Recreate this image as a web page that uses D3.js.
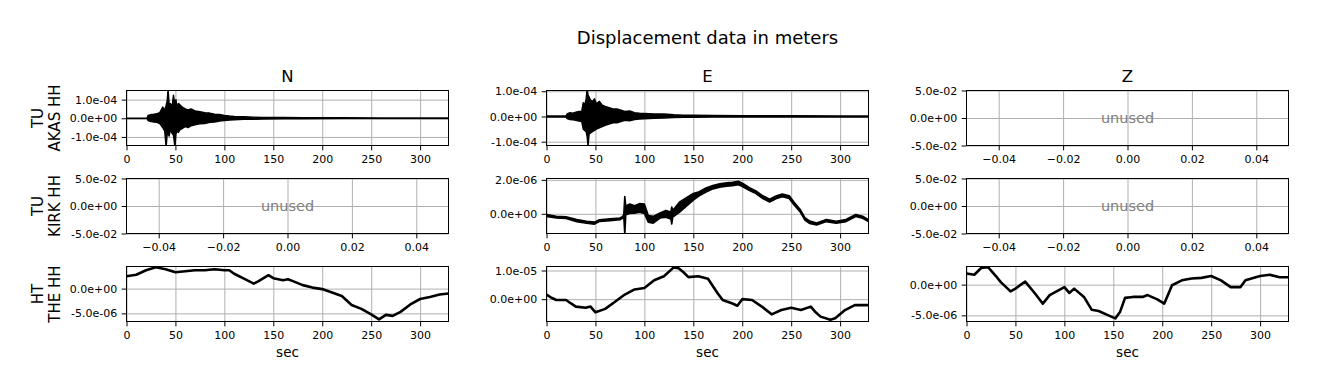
<!DOCTYPE html>
<html>
<head>
<meta charset="utf-8">
<script src="https://cdn.jsdelivr.net/npm/d3@7"></script>
<style>
  body { margin: 0; background: #fff; }
  text { font-family: "DejaVu Sans", sans-serif; fill: #000; }
</style>
</head>
<body>
<div id="graph"></div>
<script>
// components (columns) and stations (rows)
var components = ['N', 'E', 'Z'];
var stationNet = ['TU', 'TU', 'HT'];
var stationName = ['AKAS HH', 'KIRK HH', 'THE HH'];

// TU AKAS N: envelope of the trace (x1e-4 m)
var akasNTime = [0, 21, 22, 25, 28, 31, 34, 37, 39, 40.5, 41.5, 42.5, 43.5, 45, 46.5, 48, 49.5, 50.5, 51.5, 53, 55, 57, 60, 63, 66, 70, 75, 80, 85, 90, 95, 100, 105, 110, 120, 130, 140, 160, 180, 220, 260, 300, 329];
var akasNUpper = [0.01, 0.01, 0.15, 0.2, 0.22, 0.25, 0.3, 0.6, 0.45, 0.7, 0.9, 1.55, 0.8, 0.78, 0.6, 1.24, 0.7, 1.0, 0.6, 0.8, 0.7, 0.6, 0.5, 0.45, 0.5, 0.4, 0.35, 0.3, 0.28, 0.22, 0.2, 0.15, 0.12, 0.1, 0.08, 0.06, 0.05, 0.04, 0.03, 0.03, 0.02, 0.02, 0.02];
var akasNLower = [-0.01, -0.01, -0.12, -0.18, -0.2, -0.22, -0.28, -0.5, -0.67, -1.55, -0.9, -0.8, -0.95, -0.6, -0.8, -0.9, -1.55, -0.85, -0.7, -0.76, -0.6, -0.55, -0.45, -0.5, -0.4, -0.35, -0.3, -0.28, -0.22, -0.2, -0.15, -0.12, -0.1, -0.08, -0.06, -0.05, -0.04, -0.03, -0.03, -0.02, -0.02, -0.02, -0.02];

// TU AKAS E: envelope (x1e-4 m)
var akasETime = [0, 20, 21, 24, 27, 30, 33, 36, 37.5, 39, 40.5, 41.5, 42.5, 43.5, 45, 47, 49, 51, 54, 57, 60, 64, 68, 72, 76, 80, 85, 90, 95, 100, 110, 120, 130, 140, 150, 170, 200, 250, 300, 329];
var akasEUpper = [0.02, 0.02, 0.1, 0.15, 0.13, 0.17, 0.2, 0.2, 0.55, 0.45, 0.7, 1.1, 0.85, 0.77, 0.65, 0.6, 0.7, 0.5, 0.6, 0.45, 0.4, 0.35, 0.3, 0.3, 0.25, 0.2, 0.22, 0.15, 0.13, 0.12, 0.1, 0.1, 0.07, 0.05, 0.05, 0.04, 0.03, 0.03, 0.02, 0.02];
var akasELower = [-0.02, -0.02, -0.08, -0.12, -0.13, -0.15, -0.18, -0.2, -0.5, -0.55, -0.6, -0.8, -1.2, -0.7, -0.65, -0.6, -0.55, -0.5, -0.45, -0.4, -0.35, -0.3, -0.25, -0.25, -0.2, -0.15, -0.17, -0.12, -0.1, -0.09, -0.07, -0.06, -0.04, -0.03, -0.03, -0.02, -0.02, -0.02, -0.02, -0.02];

// TU KIRK E: trace middle and noise half-width (x1e-6 m)
var kirkETime = [0, 10, 20, 31, 41, 49, 54, 65, 75, 78, 79, 80, 81, 85, 90, 95, 100, 104, 109, 116, 122, 127, 128, 129, 136, 143, 150, 156, 163, 170, 177, 184, 190, 196, 201, 207, 214, 221, 228, 235, 241, 248, 253, 259, 264, 269, 276, 286, 296, 306, 316, 323, 329];
var kirkEMid = [-0.1, -0.2, -0.23, -0.4, -0.5, -0.55, -0.4, -0.35, -0.3, -0.2, -0.1, -0.1, 0.2, 0.3, 0.25, 0.35, 0.3, -0.3, -0.35, -0.1, 0.0, -0.1, -0.1, 0.0, 0.4, 0.7, 1.0, 1.18, 1.4, 1.57, 1.67, 1.72, 1.76, 1.82, 1.67, 1.47, 1.27, 0.98, 0.78, 0.98, 1.08, 0.98, 0.6, 0.2, -0.3, -0.5, -0.6, -0.4, -0.5, -0.4, -0.1, -0.2, -0.4];
var kirkENoise = [0.05, 0.05, 0.05, 0.06, 0.06, 0.06, 0.05, 0.05, 0.05, 0.05, 0.1, 1.12, 0.25, 0.28, 0.22, 0.25, 0.28, 0.2, 0.2, 0.15, 0.2, 0.2, 0.5, 0.2, 0.3, 0.25, 0.2, 0.12, 0.12, 0.1, 0.1, 0.1, 0.1, 0.1, 0.1, 0.08, 0.08, 0.08, 0.08, 0.08, 0.08, 0.08, 0.08, 0.07, 0.07, 0.07, 0.06, 0.06, 0.06, 0.06, 0.06, 0.06, 0.06];

// HT THE N/E/Z traces (x1e-6 m)
var theNTime = [0, 10, 20, 30, 40, 50, 60, 70, 80, 90, 100, 105, 110, 120, 130, 135, 145, 150, 160, 165, 170, 180, 190, 200, 210, 220, 230, 240, 250, 258, 265, 272, 280, 290, 300, 310, 320, 329];
var theNVal = [2.5, 2.8, 3.7, 4.3, 3.9, 3.3, 3.5, 3.7, 3.7, 3.9, 3.7, 3.7, 3.0, 2.0, 1.0, 1.5, 2.7, 2.1, 1.7, 1.9, 1.5, 0.7, 0.2, -0.1, -0.8, -1.5, -3.3, -4.1, -5.2, -6.2, -5.3, -5.5, -4.7, -3.2, -2.1, -1.7, -1.2, -1.0];
var theETime = [0, 5, 10, 20, 25, 30, 40, 45, 50, 60, 70, 80, 90, 100, 110, 120, 130, 135, 140, 145, 155, 165, 175, 180, 190, 195, 200, 210, 220, 230, 240, 250, 260, 270, 275, 280, 290, 295, 305, 315, 329];
var theEVal = [1.6, 0.5, -0.3, -0.3, -1.5, -2.6, -3.0, -2.6, -4.6, -3.4, -0.9, 1.6, 3.4, 3.9, 6.6, 8.0, 11.1, 10.8, 9.4, 7.7, 8.0, 7.1, 2.0, -0.3, -1.5, -2.3, 0, -0.3, -2.6, -5.3, -3.8, -3.0, -3.8, -2.6, -4.6, -6.1, -7.2, -6.7, -3.8, -2.1, -2.1];
var theZTime = [0, 8, 15, 22, 30, 35, 45, 50, 60, 70, 78, 85, 100, 105, 110, 120, 128, 135, 145, 152, 157, 162, 170, 180, 185, 195, 202, 210, 220, 230, 240, 250, 260, 270, 280, 285, 300, 310, 320, 329];
var theZVal = [1.8, 1.6, 2.7, 2.85, 1.4, 0.4, -1.1, -0.65, 0.5, -1.45, -3.1, -1.7, -0.4, -1.35, -0.65, -2.0, -4.1, -4.3, -5.0, -5.5, -4.4, -2.15, -2.0, -2.0, -1.7, -2.4, -3.1, -0.1, 0.7, 1.0, 1.1, 1.4, 0.7, -0.4, -0.4, 0.7, 1.4, 1.6, 1.2, 1.2];

// axis limits and ticks per panel, row by row
var timeLimits = [0, 329];
var unusedLimits = [-0.05, 0.05];
var timeTicks = [0, 50, 100, 150, 200, 250, 300];
var unusedTicks = [-0.04, -0.02, 0, 0.02, 0.04];
var yLimits = [
  [[-1.46e-4, 1.49e-4], [-1.15e-4, 1.03e-4], [-0.05, 0.05]],
  [[-0.05, 0.05], [-1.16e-6, 2.08e-6], [-0.05, 0.05]],
  [[-6.64e-6, 4.46e-6], [-7.8e-6, 1.14e-5], [-6.0e-6, 2.95e-6]]
];
var yTicks = [
  [[-1e-4, 0, 1e-4], [-1e-4, 0, 1e-4], [-0.05, 0, 0.05]],
  [[-0.05, 0, 0.05], [0, 2e-6], [-0.05, 0, 0.05]],
  [[-5e-6, 0], [0, 1e-5], [-5e-6, 0]]
];

function zip(t, a, scale) {
  return t.map(function(d, i) { return {t: d, v: a[i] * scale}; });
}
function band(t, lo, hi, scale) {
  return t.map(function(d, i) { return {t: d, lo: lo[i] * scale, hi: hi[i] * scale}; });
}

// what goes in each panel: null = unused
var traces = [
  [{kind: 'band', data: band(akasNTime, akasNLower, akasNUpper, 1e-4), sw: 1.4},
   {kind: 'band', data: band(akasETime, akasELower, akasEUpper, 1e-4), sw: 1.4},
   null],
  [null,
   {kind: 'band', sw: 1.6, data: band(kirkETime,
      kirkEMid.map(function(m, i) { return m - kirkENoise[i]; }),
      kirkEMid.map(function(m, i) { return m + kirkENoise[i]; }), 1e-6)},
   null],
  [{kind: 'line', data: zip(theNTime, theNVal, 1e-6)},
   {kind: 'line', data: zip(theETime, theEVal, 1e-6)},
   {kind: 'line', data: zip(theZTime, theZVal, 1e-6)}]
];

var width = 1318, height = 389;
var colX = [126.5, 546.5, 966.5], panelW = 322;
var rowY = [90.5, 178.5, 266.5], panelH = 55;
var tickLen = 4.86;

// matplotlib style %.1e
function sci(v) {
  var parts = v.toExponential(1).split('e');
  var e = parts[1];
  return parts[0] + 'e' + e[0] + e.slice(1).padStart(2, '0');
}

var svg = d3.select('#graph').append('svg')
  .attr('width', width).attr('height', height);
svg.append('rect').attr('width', width).attr('height', height).attr('fill', '#fff');

svg.append('text')
  .attr('x', (colX[0] + colX[2] + panelW) / 2).attr('y', 44)
  .attr('text-anchor', 'middle').style('font-size', '18px')
  .text('Displacement data in meters');

var defs = svg.append('defs');

for (var r = 0; r < 3; r++) {
  for (var c = 0; c < 3; c++) {
    var tr = traces[r][c];
    var g = svg.append('g').attr('transform', 'translate(' + colX[c] + ',' + rowY[r] + ')');
    var x = d3.scaleLinear().domain(tr ? timeLimits : unusedLimits).range([0, panelW]);
    var y = d3.scaleLinear().domain(yLimits[r][c]).range([panelH, 0]);

    // grid
    g.append('g').call(d3.axisBottom(x).tickValues(tr ? timeTicks : unusedTicks)
        .tickSize(-panelH).tickFormat(''))
      .attr('transform', 'translate(0,' + panelH + ')')
      .call(function(a) { a.select('.domain').remove(); a.selectAll('line').attr('stroke', '#b0b0b0').attr('stroke-width', 1); });
    g.append('g').call(d3.axisLeft(y).tickValues(yTicks[r][c])
        .tickSize(-panelW).tickFormat(''))
      .call(function(a) { a.select('.domain').remove(); a.selectAll('line').attr('stroke', '#b0b0b0').attr('stroke-width', 1); });

    var clipId = 'clip' + r + c;
    defs.append('clipPath').attr('id', clipId)
      .append('rect').attr('width', panelW).attr('height', panelH);
    var plot = g.append('g').attr('clip-path', 'url(#' + clipId + ')');

    if (!tr) {
      g.append('text')
        .attr('x', panelW / 2).attr('y', panelH / 2)
        .attr('dy', '0.36em')
        .attr('text-anchor', 'middle')
        .style('font-size', '14.5px').style('fill', '#808080')
        .text('unused');
    } else if (tr.kind === 'band') {
      plot.append('path').datum(tr.data)
        .attr('d', d3.area().x(function(d) { return x(d.t); })
          .y0(function(d) { return y(d.lo); }).y1(function(d) { return y(d.hi); }))
        .attr('fill', '#000').attr('stroke', '#000').attr('stroke-width', tr.sw)
        .attr('stroke-linejoin', 'round');
    } else {
      plot.append('path').datum(tr.data)
        .attr('d', d3.line().x(function(d) { return x(d.t); }).y(function(d) { return y(d.v); }))
        .attr('fill', 'none').attr('stroke', '#000').attr('stroke-width', 2.6)
        .attr('stroke-linejoin', 'round');
    }

    // spines
    g.append('rect').attr('width', panelW).attr('height', panelH)
      .attr('fill', 'none').attr('stroke', '#000').attr('stroke-width', 1);

    // ticks and labels
    var xa = g.append('g').attr('transform', 'translate(0,' + panelH + ')')
      .call(d3.axisBottom(x).tickValues(tr ? timeTicks : unusedTicks)
        .tickSize(tickLen).tickPadding(4.4)
        .tickFormat(tr ? d3.format('d') : d3.format('.2f')));
    var ya = g.append('g')
      .call(d3.axisLeft(y).tickValues(yTicks[r][c])
        .tickSize(tickLen).tickPadding(4.4).tickFormat(sci));
    [xa, ya].forEach(function(a) {
      a.select('.domain').remove();
      a.selectAll('line').attr('stroke', '#000').attr('stroke-width', 1);
      a.selectAll('text').attr('font-family', null).style('font-size', '11px').attr('fill', '#000');
    });

    if (r === 0) {
      g.append('text').attr('x', panelW / 2).attr('y', -8.5)
        .attr('text-anchor', 'middle').style('font-size', '16.5px')
        .text(components[c]);
    }
    if (r === 2) {
      g.append('text').attr('x', panelW / 2).attr('y', panelH + 35)
        .attr('text-anchor', 'middle').style('font-size', '13.5px')
        .text('sec');
    }
    if (c === 0) {
      [stationNet[r], stationName[r]].forEach(function(s, i) {
        g.append('text')
          .attr('transform', 'translate(' + (43 - colX[0] + i * 16.5) + ',' + panelH / 2 + ') rotate(-90)')
          .attr('text-anchor', 'middle').style('font-size', '15px')
          .text(s);
      });
    }
  }
}
</script>
</body>
</html>
